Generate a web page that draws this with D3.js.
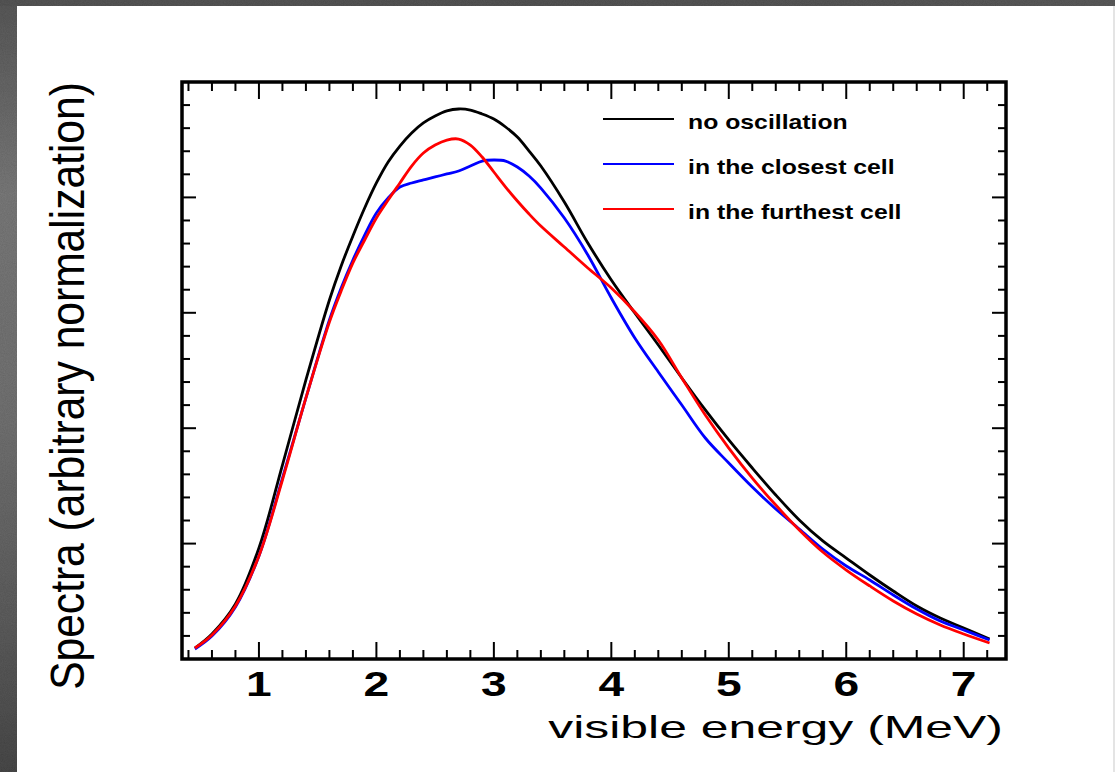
<!DOCTYPE html>
<html>
<head>
<meta charset="utf-8">
<script src="https://cdn.jsdelivr.net/npm/d3@7"></script>
<style>
  html, body { margin: 0; padding: 0; background: #fff; overflow: hidden; }
  svg { display: block; }
</style>
</head>
<body>
<svg id="chart" width="1115" height="772"></svg>
<script>
// Visible energy grid (MeV) shared by the three spectra
const energy = [0.455, 0.6, 0.8, 1.0, 1.2, 1.4, 1.6, 1.7, 1.8, 1.9, 2.0, 2.1, 2.2, 2.3, 2.4, 2.5,
  2.6, 2.7, 2.8, 2.9, 3.0, 3.1, 3.2, 3.3, 3.4, 3.6, 3.8, 4.0, 4.2, 4.4, 4.6, 4.8, 5.0, 5.2,
  5.4, 5.6, 5.8, 6.0, 6.2, 6.4, 6.6, 6.8, 7.0, 7.22];

// Spectra, arbitrary normalization
const noOscillation = [0.095, 0.217, 0.477, 0.962, 1.681, 2.418, 3.111, 3.406, 3.666, 3.908,
  4.125, 4.307, 4.445, 4.558, 4.645, 4.705, 4.749, 4.766, 4.757, 4.723, 4.679, 4.610, 4.523,
  4.402, 4.272, 3.960, 3.605, 3.284, 2.998, 2.721, 2.435, 2.158, 1.898, 1.655, 1.421, 1.205,
  1.023, 0.875, 0.728, 0.589, 0.459, 0.355, 0.269, 0.173];

const closestCell = [0.087, 0.199, 0.451, 0.893, 1.568, 2.262, 2.938, 3.215, 3.458, 3.674,
  3.865, 3.995, 4.090, 4.125, 4.151, 4.177, 4.203, 4.229, 4.272, 4.315, 4.324, 4.315, 4.263,
  4.185, 4.081, 3.821, 3.501, 3.128, 2.782, 2.487, 2.201, 1.915, 1.698, 1.490, 1.300, 1.127,
  0.953, 0.806, 0.685, 0.555, 0.433, 0.329, 0.251, 0.165];

const furthestCell = [0.095, 0.208, 0.459, 0.893, 1.551, 2.262, 2.920, 3.189, 3.432, 3.631,
  3.822, 3.977, 4.125, 4.272, 4.385, 4.454, 4.497, 4.506, 4.454, 4.350, 4.220, 4.090, 3.969,
  3.856, 3.752, 3.570, 3.388, 3.215, 3.007, 2.764, 2.435, 2.114, 1.828, 1.568, 1.334, 1.118,
  0.927, 0.771, 0.633, 0.503, 0.390, 0.295, 0.217, 0.139];

const seriesNames = ["no oscillation", "in the closest cell", "in the furthest cell"];
const seriesColors = ["#000000", "#0000ff", "#ff0000"];
const xTickValues = [1, 2, 3, 4, 5, 6, 7];
const xTickLabels = ["1", "2", "3", "4", "5", "6", "7"];
const yMajorTicks = [1, 2, 3, 4];
const xTitle = "visible energy (MeV)";
const yTitle = "Spectra (arbitrary normalization)";

const svg = d3.select("#chart");
const W = 1115, H = 772;
const FONT = "'Liberation Sans', Arial, Helvetica, sans-serif";

// ---- canvas frame: grey border with slight grain ----
const defs = svg.append("defs");
const gLeft = defs.append("linearGradient").attr("id", "leftGrey")
  .attr("x1", 0).attr("y1", 0).attr("x2", 0).attr("y2", 1);
[[0, "#595959"], [0.25, "#7a7a7a"], [0.55, "#727272"], [0.8, "#5e5e5e"], [1, "#4a4a4a"]]
  .forEach(([o, c]) => gLeft.append("stop").attr("offset", o).attr("stop-color", c));
const gTop = defs.append("linearGradient").attr("id", "topGrey")
  .attr("x1", 0).attr("y1", 0).attr("x2", 1).attr("y2", 0);
[[0, "#575757"], [0.5, "#555555"], [1, "#5b5b5b"]]
  .forEach(([o, c]) => gTop.append("stop").attr("offset", o).attr("stop-color", c));
const grain = defs.append("filter").attr("id", "grain")
  .attr("x", 0).attr("y", 0).attr("width", 1).attr("height", 1);
grain.append("feTurbulence").attr("type", "fractalNoise").attr("baseFrequency", 0.9)
  .attr("numOctaves", 2).attr("seed", 3).attr("result", "noise");
grain.append("feColorMatrix").attr("in", "noise").attr("type", "matrix")
  .attr("values", "0 0 0 0 0  0 0 0 0 0  0 0 0 0 0  0 0 0 0.25 0").attr("result", "dots");
grain.append("feComposite").attr("in", "dots").attr("in2", "SourceGraphic").attr("operator", "in").attr("result", "d2");
grain.append("feMerge").selectAll("feMergeNode").data(["SourceGraphic", "d2"])
  .join("feMergeNode").attr("in", d => d);

svg.append("rect").attr("x", 0).attr("y", 0).attr("width", W).attr("height", H).attr("fill", "#fff");
svg.append("rect").attr("x", 0).attr("y", 0).attr("width", 17).attr("height", H)
  .attr("fill", "url(#leftGrey)").attr("filter", "url(#grain)");
svg.append("rect").attr("x", 0).attr("y", 0).attr("width", W).attr("height", 6)
  .attr("fill", "url(#topGrey)").attr("filter", "url(#grain)");
svg.append("rect").attr("x", 1113).attr("y", 6).attr("width", 2).attr("height", H - 6).attr("fill", "#e4e4e4");

// ---- scales ----
const frame = { left: 182, right: 1006, top: 82, bottom: 659 };
const x = d3.scaleLinear().domain([0.345, 7.36]).range([frame.left, frame.right]);
const y = d3.scaleLinear().domain([0, 5]).range([frame.bottom, frame.top]);

// ---- ticks on all four sides, pointing inward ----
const xMinor = d3.range(0.4, 7.3, 0.2).filter(v => Math.abs(v - Math.round(v)) > 0.05);
const yMinor = d3.range(0.2, 5.0, 0.2).filter(v => Math.abs(v - Math.round(v)) > 0.05);
const tickG = svg.append("g").attr("stroke", "#000").attr("stroke-width", 2);

function xTicks(vals, len) {
  tickG.append("g").selectAll("line.b").data(vals).join("line")
    .attr("x1", d => x(d)).attr("x2", d => x(d))
    .attr("y1", frame.bottom).attr("y2", frame.bottom - len);
  tickG.append("g").selectAll("line.t").data(vals).join("line")
    .attr("x1", d => x(d)).attr("x2", d => x(d))
    .attr("y1", frame.top).attr("y2", frame.top + len);
}
function yTicks(vals, len) {
  tickG.append("g").selectAll("line.l").data(vals).join("line")
    .attr("y1", d => y(d)).attr("y2", d => y(d))
    .attr("x1", frame.left).attr("x2", frame.left + len);
  tickG.append("g").selectAll("line.r").data(vals).join("line")
    .attr("y1", d => y(d)).attr("y2", d => y(d))
    .attr("x1", frame.right).attr("x2", frame.right - len);
}
xTicks(xMinor, 9);
xTicks(xTickValues, 17);
yTicks(yMinor, 8);
yTicks(yMajorTicks, 14);

// ---- spectra ----
const series = [noOscillation, closestCell, furthestCell];
const line = d3.line()
  .x((d, i) => x(energy[i]))
  .y(d => y(d))
  .curve(d3.curveCatmullRom.alpha(0.5));

const plotClip = defs.append("clipPath").attr("id", "plotClip");
plotClip.append("rect").attr("x", frame.left).attr("y", frame.top)
  .attr("width", frame.right - frame.left).attr("height", frame.bottom - frame.top);

svg.append("g").attr("clip-path", "url(#plotClip)")
  .selectAll("path").data(series).join("path")
  .attr("d", d => line(d))
  .attr("fill", "none")
  .attr("stroke", (d, i) => seriesColors[i])
  .attr("stroke-width", 2.8)
  .attr("stroke-linejoin", "round");

// ---- frame ----
svg.append("rect")
  .attr("x", frame.left).attr("y", frame.top)
  .attr("width", frame.right - frame.left).attr("height", frame.bottom - frame.top)
  .attr("fill", "none").attr("stroke", "#000").attr("stroke-width", 3.5);

// ---- x tick labels (bold, horizontally stretched) ----
svg.append("g").selectAll("text").data(xTickValues).join("text")
  .attr("transform", d => `translate(${x(d)},696) scale(1.32,1)`)
  .attr("text-anchor", "middle")
  .attr("font-family", FONT).attr("font-weight", "bold").attr("font-size", 35)
  .attr("fill", "#000")
  .text((d, i) => xTickLabels[i]);

// helper: stretch a text horizontally (in its own frame) to a target width
function stretchTo(sel, width) {
  const w = sel.node().getComputedTextLength();
  return w > 0 ? width / w : 1;
}

// ---- axis titles ----
const xt = svg.append("text")
  .attr("text-anchor", "end")
  .attr("font-family", FONT).attr("font-size", 32).attr("fill", "#000")
  .text(xTitle);
const sx = stretchTo(xt, 455);
xt.attr("transform", `translate(1003,738) scale(${sx},1)`);

const yt = svg.append("text")
  .attr("text-anchor", "middle")
  .attr("font-family", FONT).attr("font-size", 49).attr("fill", "#000")
  .text(yTitle);
const sy = stretchTo(yt, 608);
yt.attr("transform", `translate(84,386) rotate(-90) scale(${sy},1)`);

// ---- legend ----
const legendRows = [119, 164, 209];
const legend = svg.append("g");
seriesNames.forEach((name, i) => {
  legend.append("line")
    .attr("x1", 603).attr("x2", 674)
    .attr("y1", legendRows[i]).attr("y2", legendRows[i])
    .attr("stroke", seriesColors[i]).attr("stroke-width", 2.2);
  legend.append("text")
    .attr("transform", `translate(688,${legendRows[i] + 10}) scale(1.24,1)`)
    .attr("font-family", FONT).attr("font-weight", "bold").attr("font-size", 20)
    .attr("fill", "#000")
    .text(name);
});
</script>
</body>
</html>
